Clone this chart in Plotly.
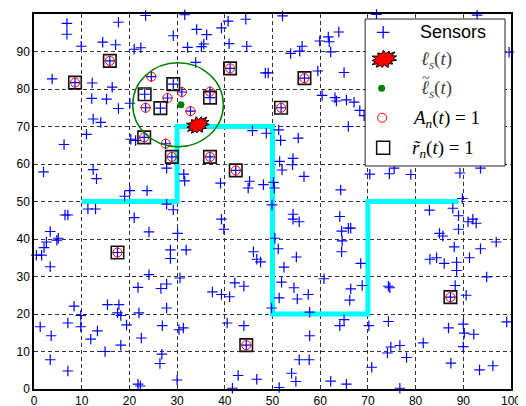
import math
import plotly.graph_objects as go

# ---------------- data ----------------
sensor_xy = [
    (6.9, 97.5), (6.9, 94.6), (17.7, 97.8), (23.4, 99.6), (9.9, 91.4), (14.4, 92.5), (17.1, 91.8),
    (21.0, 90.6), (22.4, 91.0), (3.8, 82.7), (12.2, 81.6), (16.4, 80.5), (12.1, 77.5), (15.2, 77.3),
    (17.7, 74.8), (20.1, 76.2), (12.4, 72.0), (14.0, 71.1), (11.0, 67.9), (6.3, 65.2), (20.3, 66.6),
    (21.3, 66.3), (2.0, 57.9), (12.4, 58.5), (13.1, 56.1), (20.1, 52.9), (19.0, 51.4), (23.7, 52.9),
    (31.6, 99.8), (40.7, 98.1), (44.4, 98.6), (39.3, 96.3), (34.1, 95.9), (36.2, 94.5), (29.2, 94.2),
    (40.9, 92.1), (44.6, 91.4), (35.6, 92.0), (35.1, 91.3), (32.2, 91.1), (33.9, 87.1), (48.5, 84.3),
    (49.1, 84.3), (45.8, 68.9), (48.7, 68.2), (27.8, 58.9), (31.4, 57.3), (31.6, 55.5), (39.1, 54.9),
    (45.2, 55.4), (44.9, 53.6), (48.1, 54.5), (50.2, 55.1), (50.4, 53.6),
    (52.1, 99.5), (71.8, 99.9), (63.9, 95.2), (59.9, 92.8), (61.7, 93.9), (61.9, 92.6), (56.2, 91.4),
    (55.7, 90.1), (53.8, 89.5), (62.2, 89.9), (59.5, 84.8), (65.0, 84.4), (60.4, 78.3), (63.1, 77.7),
    (63.4, 76.8), (65.5, 77.1), (67.1, 76.5), (68.3, 74.3), (69.2, 72.9), (65.9, 70.0), (51.3, 69.1),
    (51.7, 66.3), (55.4, 66.9), (51.5, 60.7), (54.3, 61.5), (54.2, 59.8), (52.0, 58.4), (56.6, 56.7),
    (64.3, 53.1), (70.4, 57.3), (74.5, 57.4),
    (92.9, 99.7), (99.6, 89.8), (79.0, 57.2), (89.3, 57.6), (75.5, 58.9), (93.6, 58.9), (89.8, 50.8),
    (6.5, 46.4), (7.1, 46.4), (11.3, 48.0), (12.9, 48.0), (21.0, 45.7), (24.1, 41.9), (3.4, 42.0),
    (5.1, 40.2), (4.8, 39.7), (2.6, 39.2), (2.1, 37.7), (1.6, 35.7), (0.5, 35.7), (3.4, 32.6),
    (24.1, 30.5), (21.8, 27.1), (8.4, 22.1), (15.4, 22.5), (17.8, 22.5), (17.5, 20.3), (18.2, 19.6),
    (22.0, 20.3), (9.8, 19.6), (7.1, 17.6), (9.8, 16.6), (1.3, 16.6), (19.4, 17.1), (13.3, 15.5),
    (3.6, 14.2), (11.9, 13.3), (22.5, 13.6), (18.2, 11.7), (14.9, 10.0), (3.4, 7.8), (7.1, 4.8),
    (21.8, 1.3), (22.3, 0.8),
    (27.8, 49.3), (29.2, 47.8), (39.3, 45.3), (39.8, 42.6), (30.1, 41.5), (28.6, 37.1), (28.6, 34.8),
    (31.9, 37.1), (46.0, 36.6), (46.7, 34.6), (47.5, 33.9), (30.6, 29.6), (27.8, 28.0), (26.6, 26.8),
    (42.1, 28.3), (44.0, 27.4), (37.4, 25.9), (39.3, 25.2), (41.0, 24.6), (27.8, 21.6), (49.8, 21.6),
    (26.9, 16.9), (30.4, 15.8), (31.3, 16.3), (40.5, 17.6), (44.0, 16.9), (26.8, 9.3), (26.4, 6.8),
    (30.0, 2.4), (42.8, 3.6), (46.7, 2.6), (41.6, 0.2), (49.9, 49.1),
    (54.3, 46.6), (54.3, 45.3), (55.6, 44.6), (64.1, 46.0), (64.5, 42.1), (65.9, 42.9), (66.4, 42.9),
    (64.6, 39.5), (64.5, 36.6), (50.5, 40.2), (51.2, 37.4), (55.0, 35.2), (52.4, 32.5), (68.5, 33.5),
    (60.8, 29.4), (51.9, 28.5), (54.5, 27.0), (66.4, 26.7), (68.8, 27.6), (51.4, 24.3), (55.2, 24.0),
    (57.5, 25.2), (66.2, 23.7), (57.8, 20.5), (65.0, 18.5), (64.1, 16.9), (70.2, 16.9), (74.3, 27.4),
    (74.6, 27.0), (74.3, 18.0), (57.8, 14.2), (74.8, 11.2), (74.1, 9.6), (55.6, 7.8), (57.7, 7.8),
    (70.8, 5.8), (54.0, 4.2), (54.9, 2.0), (51.4, 0.4), (62.2, 2.1), (65.5, 1.3),
    (82.9, 47.7), (87.8, 48.2), (89.0, 46.2), (91.0, 44.6), (92.0, 45.3), (92.7, 44.2), (89.0, 42.6),
    (85.0, 41.5), (85.7, 40.8), (96.9, 39.2), (88.1, 37.9), (93.6, 37.4), (83.0, 34.6), (84.4, 35.0),
    (86.0, 33.5), (88.6, 33.8), (88.6, 31.6), (91.3, 35.0), (94.9, 29.9), (88.3, 27.6), (90.6, 25.0),
    (99.1, 17.9), (86.9, 16.3), (90.0, 17.3), (90.2, 14.9), (92.2, 14.6), (81.6, 12.3), (90.0, 11.3),
    (76.7, 11.6), (78.1, 8.4), (87.4, 6.9), (93.4, 5.1), (96.2, 6.2), (76.7, 0.2),
]

# sensors flagged both A_n(t)=1 and r~_n(t)=1
both_xy = [(15.9, 87.5), (8.6, 81.7), (41.1, 85.5), (23.1, 67.1), (28.9, 61.9), (36.9, 61.9),
           (42.3, 58.3), (51.8, 75.0), (56.7, 82.9), (87.3, 24.5), (17.5, 36.4), (44.5, 11.7)]
# A_n(t)=1 only
active_only_xy = [(24.6, 83.3), (31.0, 79.2), (28.0, 77.6), (36.9, 79.3), (23.4, 75.0),
                  (32.8, 74.1), (27.6, 65.4)]
# r~_n(t)=1 only
reported_only_xy = [(29.2, 81.3), (23.2, 78.6), (26.5, 74.9), (36.9, 77.7)]

path_x = [10, 30, 30, 50, 50, 70, 70, 89]
path_y = [50, 50, 70, 70, 20, 20, 50, 50]

source_xy = (34.35, 70.4)       # l_s(t)
estimate_xy = (30.8, 75.8)      # l~_s(t)
region_center = (30.2, 75.8)
region_radius = (9.5, 11.2)     # x, y radii (data units)

x_ticks = list(range(0, 101, 10))
y_ticks = list(range(0, 101, 10))
legend_labels = ["Sensors",
                 "<i>ℓ</i><sub><i>s</i></sub>(<i>t</i>)",
                 "<i>ℓ</i><sub><i>s</i></sub>(<i>t</i>)",
                 "<i>A</i><sub><i>n</i></sub>(<i>t</i>) = 1",
                 "<i>r\u0303</i><sub><i>n</i></sub>(<i>t</i>) = 1"]

# ---------------- geometry / style ----------------
# page body has an 8px margin: figure is offset by (8, 8)
W, H = 518, 398
ML, MR, MT, MB = 26, 14.5, 6, 17
PW, PH = W - ML - MR, H - MT - MB
BLUE = "#0000ff"
GREEN = "#008000"

active_xy = both_xy + active_only_xy
reported_xy = both_xy + reported_only_xy
all_sensors = list(dict.fromkeys(sensor_xy + active_xy + reported_xy))


def blob(cx, cy, sx, sy, a, b, rot_deg, n=13):
    """Spiky 'explosion' outline; a,b in px, sx,sy = data units per px (sy signed)."""
    mult = [1.0, 0.66, 1.08, 0.7, 0.95, 0.64, 1.05, 0.7, 0.98, 0.66, 1.1, 0.68, 0.96, 0.7,
            1.04, 0.65, 1.0, 0.7, 0.93, 0.66, 1.07, 0.69, 0.97, 0.64, 1.03, 0.7]
    xs, ys = [], []
    rot = math.radians(rot_deg)
    m = 2 * n
    for i in range(m + 1):
        t = 2 * math.pi * (i % m) / m
        k = mult[(i % m) % len(mult)]
        px, py = a * k * math.cos(t), b * k * math.sin(t)
        qx = px * math.cos(rot) - py * math.sin(rot)
        qy = px * math.sin(rot) + py * math.cos(rot)
        xs.append(cx + qx * sx)
        ys.append(cy + qy * sy)
    return xs, ys


fig = go.Figure()

fig.add_trace(go.Scatter(x=path_x, y=path_y, mode="lines",
                         line=dict(color="#00ffff", width=5), hoverinfo="skip"))
fig.add_trace(go.Scatter(x=[p[0] for p in all_sensors], y=[p[1] for p in all_sensors],
                         mode="markers", cliponaxis=False,
                         marker=dict(symbol="cross-thin", size=7.5,
                                     line=dict(color=BLUE, width=1.2))))
fig.add_trace(go.Scatter(x=[p[0] for p in active_xy], y=[p[1] for p in active_xy],
                         mode="markers",
                         marker=dict(symbol="circle-open", size=9,
                                     line=dict(color="red", width=1), color="red")))
fig.add_trace(go.Scatter(x=[p[0] for p in reported_xy], y=[p[1] for p in reported_xy],
                         mode="markers",
                         marker=dict(symbol="square-open", size=12.5,
                                     line=dict(color="#111", width=1.6), color="#111")))
fig.add_trace(go.Scatter(x=[estimate_xy[0]], y=[estimate_xy[1]], mode="markers",
                         marker=dict(symbol="circle", size=7, color=GREEN)))
bx, by = blob(source_xy[0], source_xy[1], 100 / PW, 100 / PH, 12, 8, 22)
fig.add_trace(go.Scatter(x=bx, y=by, mode="lines", fill="toself", fillcolor="red",
                         line=dict(color="black", width=1)))

fig.add_shape(type="circle", xref="x", yref="y",
              x0=region_center[0] - region_radius[0], x1=region_center[0] + region_radius[0],
              y0=region_center[1] - region_radius[1], y1=region_center[1] + region_radius[1],
              line=dict(color=GREEN, width=1.5), layer="above")

# ---------------- legend drawn on a pixel overlay (px from plot top-left) ----------------
LX0, LX1, LY0, LY1 = 331.5, 471.5, 5, 152
fig.add_trace(go.Scatter(x=[LX0, LX1, LX1, LX0, LX0], y=[LY0, LY0, LY1, LY1, LY0],
                         mode="lines", fill="toself", fillcolor="white",
                         line=dict(color="#222", width=1), xaxis="x2", yaxis="y2"))
sym_x = 349.5
row_y = [18.3, 45.3, 74.3, 103.7, 133.8]
fig.add_trace(go.Scatter(x=[sym_x], y=[row_y[0]], mode="markers", xaxis="x2", yaxis="y2",
                         marker=dict(symbol="cross-thin", size=9, line=dict(color=BLUE, width=1.3))))
lbx, lby = blob(sym_x + 1, row_y[1], 1, -1, 13, 8.5, 15)
fig.add_trace(go.Scatter(x=lbx, y=lby, mode="lines", fill="toself", fillcolor="red",
                         line=dict(color="black", width=1), xaxis="x2", yaxis="y2"))
fig.add_trace(go.Scatter(x=[sym_x - 1.5], y=[row_y[2]], mode="markers", xaxis="x2", yaxis="y2",
                         marker=dict(symbol="circle", size=7, color=GREEN)))
fig.add_trace(go.Scatter(x=[sym_x - 1], y=[row_y[3]], mode="markers", xaxis="x2", yaxis="y2",
                         marker=dict(symbol="circle-open", size=9, color="red",
                                     line=dict(color="red", width=1))))
fig.add_trace(go.Scatter(x=[sym_x], y=[row_y[4]], mode="markers", xaxis="x2", yaxis="y2",
                         marker=dict(symbol="square-open", size=13, color="#111",
                                     line=dict(color="#111", width=1.5))))

text_x = [384.8, 385.5, 385.5, 376.5, 376.5]
text_y = [18.3, 46.0, 75.0, 104.5, 135.0]
fonts = [dict(family="Liberation Sans, Arial", size=18, color="black"),
         dict(family="Liberation Serif, Times New Roman", size=19, color="#444"),
         dict(family="Liberation Serif, Times New Roman", size=19, color="#444"),
         dict(family="Liberation Serif, Times New Roman", size=19, color="black"),
         dict(family="Liberation Serif, Times New Roman", size=19, color="black")]
for lab, tx, ty, f in zip(legend_labels, text_x, text_y, fonts):
    fig.add_annotation(text=lab, x=tx, y=ty, xref="x2", yref="y2", showarrow=False,
                       xanchor="left", yanchor="middle", font=f)
# tilde accent over the second ℓ
fig.add_annotation(text="~", x=text_x[2] + 6.5, y=text_y[2] - 11, xref="x2", yref="y2",
                   showarrow=False, xanchor="center", yanchor="middle",
                   font=dict(family="Liberation Serif, Times New Roman", size=14, color="#444"))

axis_common = dict(range=[0, 100], showgrid=True, gridcolor="#333",
                   griddash="4px,3px", gridwidth=1, zeroline=False, showline=True,
                   mirror=True, linecolor="black", linewidth=1.5, ticks="",
                   tickfont=dict(family="Liberation Sans, Arial", size=12, color="black"),
                   automargin=False, fixedrange=True)
fig.update_layout(
    width=W, height=H, margin=dict(l=ML, r=MR, t=MT, b=MB),
    paper_bgcolor="white", plot_bgcolor="white", showlegend=False,
    xaxis=dict(axis_common, tickvals=x_ticks, ticktext=[str(v) for v in x_ticks]),
    yaxis=dict(axis_common, tickvals=y_ticks, ticktext=[str(v) for v in y_ticks]),
    xaxis2=dict(overlaying="x", range=[0, PW], visible=False, fixedrange=True),
    yaxis2=dict(overlaying="y", range=[PH, 0], visible=False, fixedrange=True),
)

fig.write_html("out.html")
